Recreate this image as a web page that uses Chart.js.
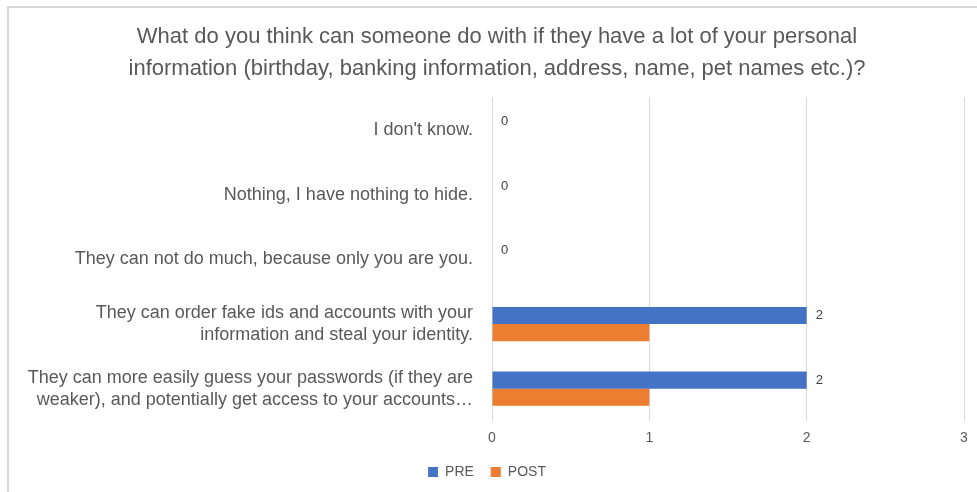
<!DOCTYPE html>
<html lang="en">
<head>
    <meta charset="UTF-8">
    <title>Personal information survey</title>
    <script src="https://cdn.jsdelivr.net/npm/chart.js"></script>
    <style>
        html, body { margin: 0; padding: 0; background: #ffffff; }
        .moldura {
            position: absolute;
            left: 7px;
            top: 6px;
            width: 970px;
            height: 486px;
            border-top: 2px solid #d6d6d6;
            border-left: 2px solid #d6d6d6;
        }
        #grafico {
            position: absolute;
            left: 0;
            top: 0;
        }
    </style>
</head>
<body>
    <div class="moldura"></div>
    <canvas id="grafico" width="977" height="492"></canvas>
<script>
    // respostas (de cima para baixo) e contagens de cada rodada
    const categorias = [
        ["I don't know."],
        ["Nothing, I have nothing to hide."],
        ["They can not do much, because only you are you."],
        ["They can order fake ids and accounts with your", "information and steal your identity."],
        ["They can more easily guess your passwords (if they are", "weaker), and potentially get access to your accounts…"]
    ];
    const valoresPre = [0, 0, 0, 2, 2];
    const valoresPost = [0, 0, 0, 1, 1];
    const ticksX = [0, 1, 2, 3];

    const fonte = "'Liberation Sans', Arial, sans-serif";
    const cinzaTexto = '#595959';

    // rotulo de valor apenas na serie PRE, ao lado da ponta da barra
    const rotulosPre = {
        id: 'rotulosPre',
        afterDatasetsDraw(chart) {
            const ctx = chart.ctx;
            const meta = chart.getDatasetMeta(0);
            ctx.save();
            ctx.font = '13px ' + fonte;
            ctx.fillStyle = '#404040';
            ctx.textAlign = 'left';
            ctx.textBaseline = 'middle';
            meta.data.forEach(function (barra, i) {
                ctx.fillText(String(valoresPre[i]), barra.x + 9, barra.y);
            });
            ctx.restore();
        }
    };

    // o titulo fica um pouco deslocado para a direita
    const ajusteTitulo = {
        id: 'ajusteTitulo',
        afterLayout(chart) {
            const t = chart.titleBlock;
            if (t) {
                t.left = 30;
                t.width = t.right - t.left;
            }
        }
    };

    const config = {
        type: 'bar',
        data: {
            labels: categorias,
            datasets: [
                {
                    label: 'PRE',
                    data: valoresPre,
                    backgroundColor: '#4472C4',
                    barPercentage: 1.0,
                    categoryPercentage: 0.53
                },
                {
                    label: 'POST',
                    data: valoresPost,
                    backgroundColor: '#ED7D31',
                    barPercentage: 1.0,
                    categoryPercentage: 0.53
                }
            ]
        },
        options: {
            indexAxis: 'y',
            responsive: false,
            animation: false,
            layout: {
                padding: { left: 10, right: 13, top: 0, bottom: 3 }
            },
            scales: {
                x: {
                    min: 0,
                    max: 3,
                    afterBuildTicks(axis) {
                        axis.ticks = ticksX.map(v => ({ value: v }));
                    },
                    afterFit(axis) {
                        axis.height = 27;
                    },
                    grid: {
                        color: '#d9d9d9',
                        lineWidth: 1,
                        drawTicks: false
                    },
                    border: { display: false },
                    ticks: {
                        color: cinzaTexto,
                        font: { family: fonte, size: 14 },
                        padding: 9
                    }
                },
                y: {
                    grid: { display: false },
                    border: { display: false },
                    afterFit(axis) {
                        axis.width = 482;
                    },
                    ticks: {
                        color: cinzaTexto,
                        font: { family: fonte, size: 18, lineHeight: 1.22 },
                        padding: 11
                    }
                }
            },
            plugins: {
                title: {
                    display: true,
                    text: [
                        'What do you think can someone do with if they have a lot of your personal',
                        'information (birthday, banking information, address, name, pet names etc.)?'
                    ],
                    color: cinzaTexto,
                    font: { family: fonte, size: 22, weight: 'normal', lineHeight: 1.45 },
                    padding: { top: 21, bottom: 13 }
                },
                legend: {
                    position: 'bottom',
                    labels: {
                        color: cinzaTexto,
                        font: { family: fonte, size: 14 },
                        boxWidth: 10,
                        boxHeight: 10,
                        padding: 17
                    }
                },
                tooltip: { enabled: false }
            }
        },
        plugins: [rotulosPre, ajusteTitulo]
    };

    new Chart(document.getElementById('grafico'), config);
</script>
</body>
</html>
